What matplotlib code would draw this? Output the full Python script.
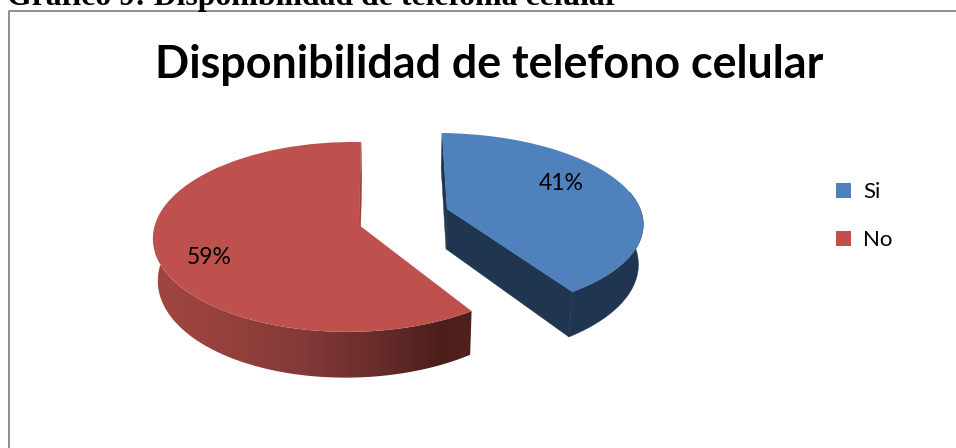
import numpy as np
import matplotlib
matplotlib.use("Agg")
import matplotlib.pyplot as plt
from matplotlib.transforms import Transform
from matplotlib.patches import Polygon
from matplotlib.colors import LinearSegmentedColormap

caption = "Gráfico 9: Disponibilidad de telefonía celular"
title = "Disponibilidad de telefono celular"
categories = ["Si", "No"]
values = [41, 59]
colors = ["#4F81BD", "#BE504D"]


class Tilt(Transform):
    """Projects a unit pie onto the screen, nearer points drawn larger."""
    input_dims = output_dims = 2

    def __init__(self, ox, oy, c, b, k, m, sh):
        super().__init__()
        self.p = (ox, oy, c, b, k, m, sh)

    def transform_non_affine(self, v):
        ox, oy, c, b, k, m, sh = self.p
        v = np.asarray(v, float)
        X, Y = v[:, 0], v[:, 1]
        w = 1 + k * Y + m * X
        return np.column_stack([ox + (c * X + sh * Y) / w, oy - b * Y / w])


DEPTH = 40.0
VANISH_X = 400.0
SHRINK = 0.98


def unit(ang):
    a = np.radians(ang)
    return np.column_stack([np.cos(a), np.sin(a)])


def edge(tr, pts):
    ox, oy, c, b, k, m, sh = tr.p
    top = tr.transform_non_affine(pts)
    w = 1 + k * pts[:, 1] + m * pts[:, 0]
    bot = np.column_stack([VANISH_X + (top[:, 0] - VANISH_X) * SHRINK,
                           top[:, 1] + DEPTH / w])
    return top, bot


def cut_face(ax, tr, theta, color, z=3):
    pts = np.vstack([[0, 0], unit(np.array([theta]))])
    t, b_ = edge(tr, pts)
    ax.add_patch(Polygon([t[0], t[1], b_[1], b_[0]], closed=True, fc=color,
                         ec=color, lw=0.3, zorder=z))


fig = plt.figure(figsize=(9.56, 4.48), dpi=100)
ax = fig.add_axes([0, 0, 1, 1])
wedges, _ = ax.pie(values, colors=colors, startangle=90, counterclock=False,
                   wedgeprops=dict(linewidth=0, zorder=6))
ax.set_aspect("auto")

blue, red = wedges
tr_blue = Tilt(447, 209, 199, 87.4, 0.15, 0.03, -5.75)
tr_red = Tilt(359, 225, 196, 93.4, 0.125, 0.04, 2.25)
blue.set_transform(tr_blue + ax.transData)
red.set_transform(tr_red + ax.transData)

# blue body
navy = "#1F3550"
ang = np.linspace(blue.theta1, 12, 120)
t, b_ = edge(tr_blue, unit(ang))
ax.add_patch(Polygon(np.vstack([t, b_[::-1]]), closed=True, fc=navy, ec=navy, lw=0.3, zorder=2))
cut_face(ax, tr_blue, blue.theta1, navy)
cut_face(ax, tr_blue, blue.theta2, navy)

# red body
cut_face(ax, tr_red, red.theta1, "#9E3F3C")
ang = np.linspace(red.theta2, -186, 200)
t, b_ = edge(tr_red, unit(ang))
wall = Polygon(np.vstack([t, b_[::-1]]), closed=True, fc="none", ec="none", zorder=2)
ax.add_patch(wall)
stops = [(155, "#A24542"), (220, "#96413D"), (300, "#843A38"), (380, "#672C2A"),
         (440, "#4C1E1A"), (473, "#521F1E")]
cmap = LinearSegmentedColormap.from_list(
    "wall", [((x - 155) / (473 - 155), col) for x, col in stops])
im = ax.imshow(np.linspace(0, 1, 320)[None, :], extent=(155, 474, 385, 230), cmap=cmap,
               aspect="auto", zorder=2, interpolation="bilinear")
im.set_clip_path(wall)
ax.set_xlim(0, 956)
ax.set_ylim(448, 0)

# frame
ax.plot([9.5, 9.5, 960], [460, 11.5, 11.5], color="#868686", lw=1.3, zorder=1)

# texts
ax.text(7, 5, caption, family="Liberation Serif", weight="bold", fontsize=22.9,
        ha="left", va="baseline", color="black", zorder=8)
ax.text(489, 78, title, family="Lato", weight="bold", fontsize=32.3,
        ha="center", va="baseline", color="black", zorder=8)
label_pos = [(561, 183), (209, 258)]
for v, (x, y) in zip(values, label_pos):
    ax.text(x, y, f"{v}%", family="Lato", fontsize=16.5, ha="center", va="center",
            color="black", zorder=8)

ax.legend(wedges, categories, loc="upper left", bbox_to_anchor=(836 / 956, 1 - 182 / 448),
          frameon=False, prop=dict(family="Lato", size=16), handlelength=0.675, handleheight=0.675,
          handletextpad=0.54, labelspacing=1.28, borderpad=0, borderaxespad=0)
ax.axis("off")
fig.savefig("out.png", dpi=100)
